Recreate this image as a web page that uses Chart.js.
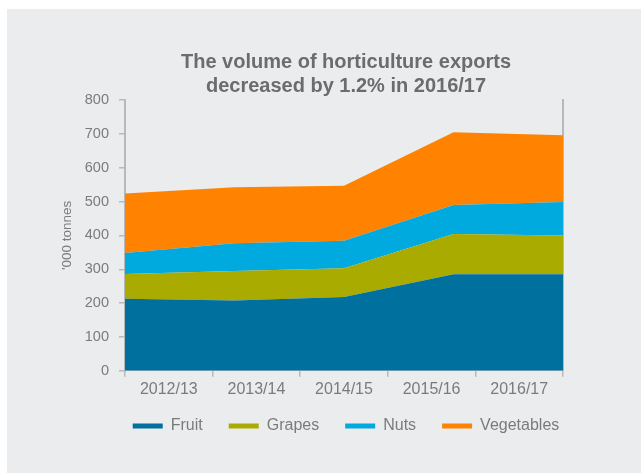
<!DOCTYPE html>
<html>
<head>
<meta charset="utf-8">
<script src="https://cdn.jsdelivr.net/npm/chart.js@4"></script>
<style>
  html, body { margin: 0; padding: 0; background: #ffffff; }
  #panel { position: absolute; left: 7px; top: 9px; width: 634px; height: 464px; background: #ebecee; }
  canvas { display: block; }
</style>
</head>
<body>
<div id="panel"><canvas id="chart" width="634" height="464"></canvas></div>
<script>
// Financial years shown on the x axis
const years = ['2012/13', '2013/14', '2014/15', '2015/16', '2016/17'];

// Export volumes by product, '000 tonnes
const fruit      = [213, 208, 218, 285, 285];
const grapes     = [73, 87, 85, 119, 115];
const nuts       = [62, 82, 81, 86, 99];
const vegetables = [176, 165, 163, 215, 197];

// Value axis range
const yMin = 0;
const yMax = 800;
const yStep = 100;

const textGrey = '#7b7b7b';
const axisGrey = '#b8b9bb';
const fontFamily = '"Liberation Sans", Arial, Helvetica, sans-serif';

function areaSeries(label, values, colour, fill) {
  return {
    label: label,
    data: values,
    backgroundColor: colour,
    borderColor: colour,
    borderWidth: 0,
    pointRadius: 0,
    pointHoverRadius: 0,
    tension: 0,
    fill: fill,
    xAxisID: 'x',
    yAxisID: 'y'
  };
}

// The legend's label padding also sets its top gap; pull the row up a little
// so it sits closer to the year labels while keeping the wide item spacing.
const legendLift = {
  id: 'legendLift',
  afterLayout(chart) {
    const lg = chart.legend;
    if (lg) {
      lg.top -= 10;
      lg.bottom -= 10;
    }
  }
};

new Chart(document.getElementById('chart'), {
  type: 'line',
  data: {
    labels: years,
    datasets: [
      areaSeries('Fruit', fruit, '#00709f', 'origin'),
      areaSeries('Grapes', grapes, '#a9ab00', '-1'),
      areaSeries('Nuts', nuts, '#00a9de', '-1'),
      areaSeries('Vegetables', vegetables, '#ff8300', '-1')
    ]
  },
  plugins: [legendLift],
  options: {
    responsive: false,
    animation: false,
    layout: { padding: { left: 44, right: 0, top: 0, bottom: 19 } },
    plugins: {
      tooltip: { enabled: false },
      title: {
        display: true,
        text: ['The volume of horticulture exports', 'decreased by 1.2% in 2016/17'],
        color: '#6b6c6e',
        font: { family: fontFamily, size: 20, weight: 'bold', lineHeight: 1.2 },
        padding: { top: 41.5, bottom: 1.5 }
      },
      legend: {
        position: 'bottom',
        labels: {
          boxWidth: 30,
          boxHeight: 5,
          padding: 26,
          color: textGrey,
          font: { family: fontFamily, size: 16 }
        }
      }
    },
    scales: {
      // positions the data points from the first to the last edge
      x: {
        type: 'category',
        offset: false,
        display: false
      },
      // visible year axis with labels centred between the boundary ticks
      xLabels: {
        axis: 'x',
        type: 'category',
        position: 'bottom',
        offset: true,
        grid: {
          offset: true,
          drawOnChartArea: false,
          drawTicks: true,
          tickLength: 6,
          color: axisGrey,
          lineWidth: 1.5
        },
        border: { display: true, color: axisGrey, width: 1 },
        ticks: {
          color: textGrey,
          padding: 3,
          font: { family: fontFamily, size: 16 },
          maxRotation: 0
        }
      },
      y: {
        stacked: true,
        min: yMin,
        max: yMax,
        position: 'left',
        afterFit: function (scale) { scale.width = 74; },
        grid: {
          drawOnChartArea: false,
          drawTicks: true,
          tickLength: 6,
          color: axisGrey,
          lineWidth: 1.5
        },
        border: { display: true, color: axisGrey, width: 2 },
        ticks: {
          stepSize: yStep,
          color: textGrey,
          padding: 10,
          font: { family: fontFamily, size: 14.5 }
        },
        title: {
          display: true,
          text: "'000 tonnes",
          color: textGrey,
          font: { family: fontFamily, size: 13.5 },
          padding: { top: 8, bottom: 0 }
        }
      },
      // plain border line along the right edge of the plot
      yRight: {
        axis: 'y',
        position: 'right',
        min: yMin,
        max: yMax,
        afterFit: function (scale) { scale.width = 78; },
        grid: { display: false, drawTicks: false },
        ticks: { display: false },
        border: { display: true, color: axisGrey, width: 2 }
      }
    }
  }
});
</script>
</body>
</html>
